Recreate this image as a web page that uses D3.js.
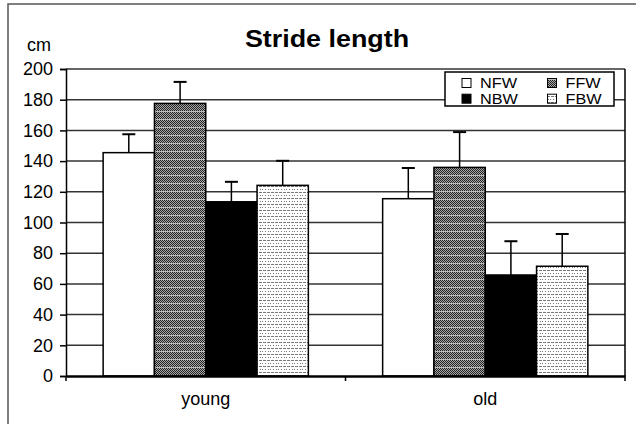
<!DOCTYPE html>
<html><head><meta charset="utf-8">
<script src="https://cdn.jsdelivr.net/npm/d3@7"></script>
<style>body{margin:0;background:#fff}svg{display:block}text{font-family:Arial,"Liberation Sans",sans-serif}</style>
</head><body><svg id="c" width="636" height="424"></svg>
<script>
const categories = ["young", "old"];
const series = ["NFW", "FFW", "NBW", "FBW"];
const NFW = [145.5, 115.5];
const FFW = [177.6, 135.9];
const NBW = [113.5, 65.8];
const FBW = [124.2, 71.5];
const errNFW = [12, 20];
const errFFW = [14, 23];
const errNBW = [13, 22];
const errFBW = [16, 21];
const yTicks = [0, 20, 40, 60, 80, 100, 120, 140, 160, 180, 200];

const values = {NFW, FFW, NBW, FBW};
const errors = {NFW: errNFW, FFW: errFFW, NBW: errNBW, FBW: errFBW};
const fills = {NFW: "#fff", FFW: "url(#pFFW)", NBW: "#000", FBW: "url(#pFBW)"};
const FONT = "Arial, 'Liberation Sans', sans-serif";

const svg = d3.select("#c");
const L = 66, R = 625, T = 69, B = 376;

// patterns
const defs = svg.append("defs");
const p1 = defs.append("pattern").attr("id", "pFFW").attr("patternUnits", "userSpaceOnUse")
  .attr("width", 4).attr("height", 8);
p1.append("rect").attr("width", 4).attr("height", 8).attr("fill", "#a8a8a8");
[[0,0],[2,0],[1,1],[3,1],[0,2],[2,2],[1,3],[3,3],[0,4],[2,4],[1,5],[3,5],[0,6],[2,6]].forEach(([x,y]) =>
  p1.append("rect").attr("x", x).attr("y", y).attr("width", 1).attr("height", 1).attr("fill", "#222"));
p1.append("rect").attr("x", 0).attr("y", 7).attr("width", 4).attr("height", 1).attr("fill", "#bbb");

const p2 = defs.append("pattern").attr("id", "pFBW").attr("patternUnits", "userSpaceOnUse")
  .attr("width", 8).attr("height", 6);
p2.append("rect").attr("width", 8).attr("height", 6).attr("fill", "#fff");
[[0,0],[1,0],[3,0],[4,0],[5,0],[7,0],[1,3],[4,3],[6,3]].forEach(([x,y]) =>
  p2.append("rect").attr("x", x).attr("y", y).attr("width", 1).attr("height", 1).attr("fill", "#777"));

// outer frame (left & top)
svg.append("path").attr("d", `M8,424V4H636`).attr("fill", "none").attr("stroke", "#555").attr("stroke-width", 1.5);

const y = d3.scaleLinear().domain([0, 200]).range([B, T]);
const x0 = d3.scaleBand().domain(categories).range([L, R]).padding(0);
const x1 = d3.scaleBand().domain(series).range([0, x0.bandwidth()]).paddingInner(0).paddingOuter(0.724);

// gridlines
svg.append("g").selectAll("line").data(yTicks.filter(d => d > 0)).join("line")
  .attr("x1", L).attr("x2", R).attr("y1", d => y(d)).attr("y2", d => y(d))
  .attr("stroke", "#333").attr("stroke-width", 1.5);

// bars
const g = svg.append("g");
categories.forEach((c, i) => {
  series.forEach(s => {
    const bx = x0(c) + x1(s), bw = x1.bandwidth();
    g.append("rect").attr("x", bx).attr("y", y(values[s][i])).attr("width", bw)
      .attr("height", y(0) - y(values[s][i])).attr("fill", fills[s])
      .attr("stroke", "#000").attr("stroke-width", 1.5);
    const cx = bx + bw / 2;
    const top = y(values[s][i] + errors[s][i]);
    g.append("line").attr("x1", cx).attr("x2", cx).attr("y1", y(values[s][i])).attr("y2", top)
      .attr("stroke", "#000").attr("stroke-width", 1.5);
    g.append("line").attr("x1", cx - 6.5).attr("x2", cx + 6.5).attr("y1", top).attr("y2", top)
      .attr("stroke", "#000").attr("stroke-width", 2);
  });
});

// plot right border
svg.append("line").attr("x1", R).attr("x2", R).attr("y1", T).attr("y2", B).attr("stroke", "#000").attr("stroke-width", 1.5);

// y axis
const ya = svg.append("g").attr("transform", `translate(${L},0)`)
  .call(d3.axisLeft(y).tickValues(yTicks).tickSize(6).tickPadding(7).tickFormat(d3.format("d")));
ya.select(".domain").attr("stroke", "#000").attr("stroke-width", 1.5);
ya.selectAll(".tick line").attr("stroke", "#000").attr("stroke-width", 1.5);
ya.selectAll("text").attr("font-size", 18).attr("fill", "#000").attr("font-family", FONT);

// x axis
const xa = svg.append("g").attr("transform", `translate(0,${B})`)
  .call(d3.axisBottom(x0).tickSize(0).tickPadding(16));
xa.select(".domain").attr("stroke", "#000").attr("stroke-width", 2.5);
xa.selectAll("text").attr("font-size", 18).attr("fill", "#000").attr("font-family", FONT);
// category separators
svg.append("g").selectAll("line").data([L, x0("old"), R]).join("line")
  .attr("x1", d => d).attr("x2", d => d).attr("y1", B).attr("y2", B + 5)
  .attr("stroke", "#000").attr("stroke-width", 1.5);

// title & unit
svg.append("text").attr("x", 327).attr("y", 47).attr("text-anchor", "middle")
  .attr("font-size", 24).attr("font-weight", "bold").attr("transform", "translate(327,0) scale(1.12,1) translate(-327,0)")
  .text("Stride length");
svg.append("text").attr("x", 27).attr("y", 51).attr("font-size", 18).text("cm");

// legend
const lg = svg.append("g");
lg.append("rect").attr("x", 445).attr("y", 72).attr("width", 169).attr("height", 34)
  .attr("fill", "#fff").attr("stroke", "#000").attr("stroke-width", 1.5);
const pos = {NFW: [462, 88.5], NBW: [462, 104.2], FFW: [547.5, 88.5], FBW: [547.5, 104.2]};
series.forEach(s => {
  const [lx, ly] = pos[s];
  lg.append("rect").attr("x", lx).attr("y", ly - 10).attr("width", 9).attr("height", 9)
    .attr("fill", fills[s]).attr("stroke", "#000").attr("stroke-width", 1);
  lg.append("text").attr("x", lx + 18).attr("y", ly).attr("font-size", 14)
    .attr("transform", `translate(${lx + 18},0) scale(1.16,1) translate(${-(lx + 18)},0)`).text(s);
});
</script></body></html>
